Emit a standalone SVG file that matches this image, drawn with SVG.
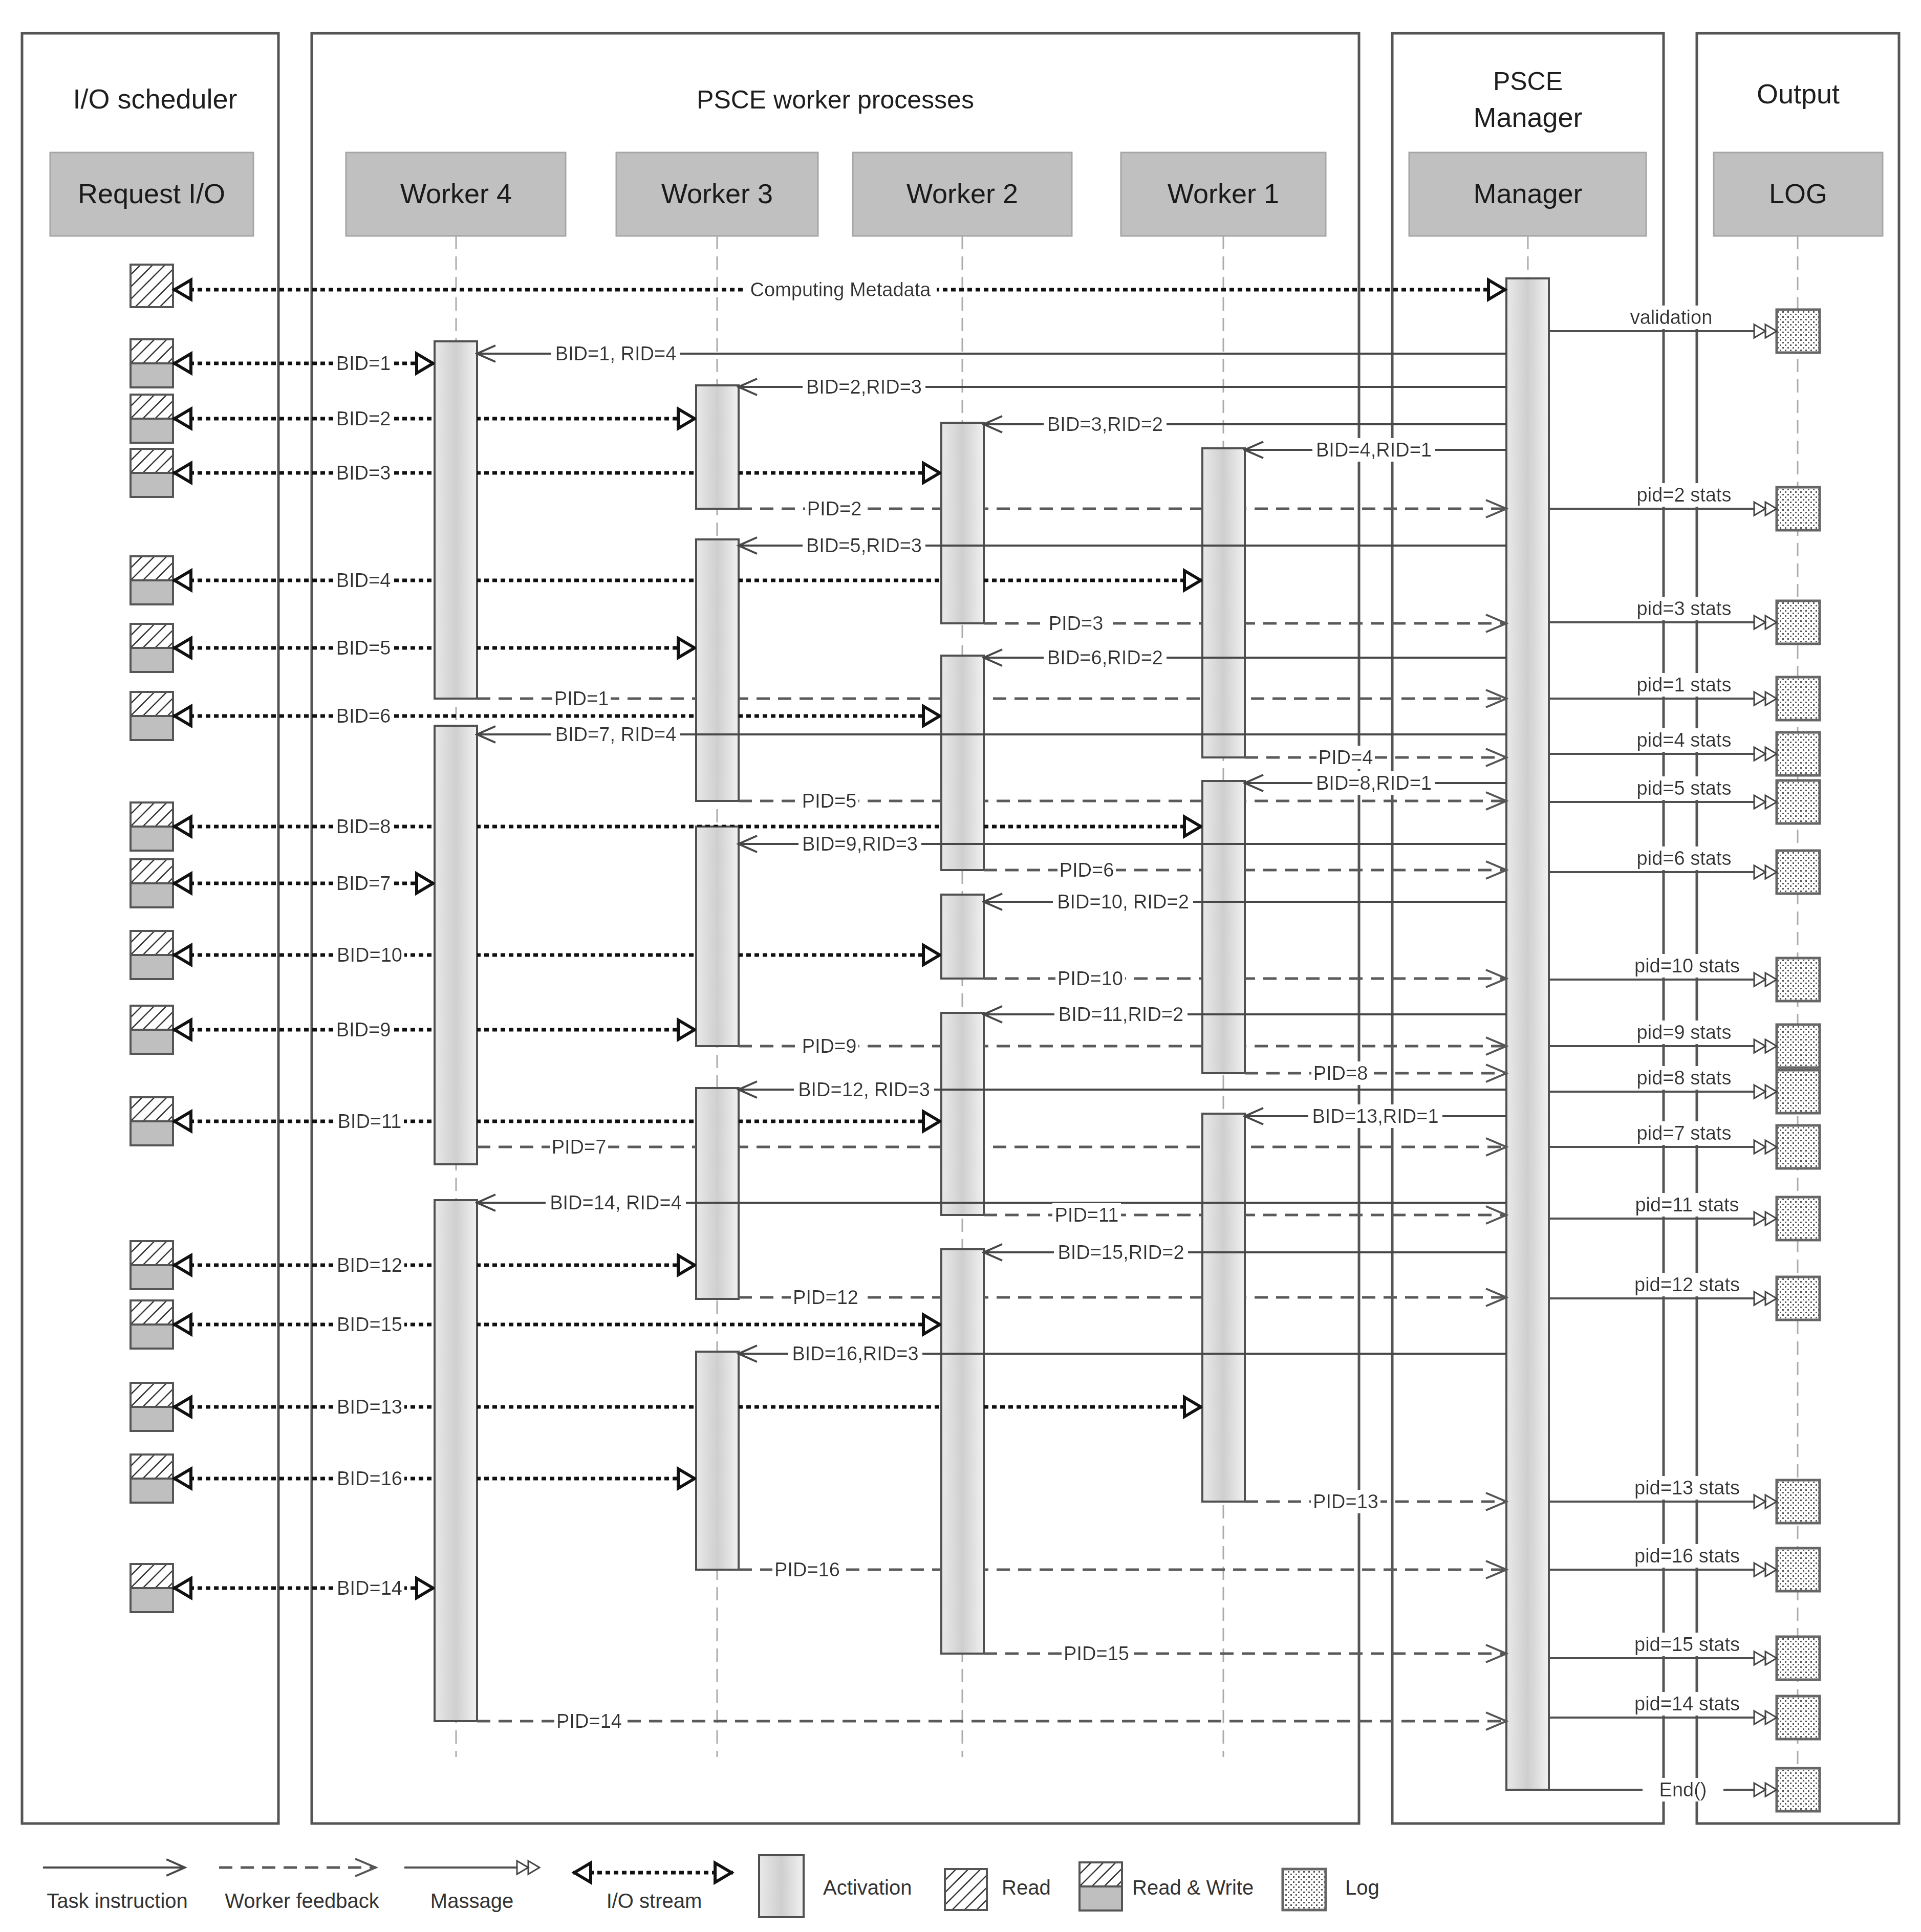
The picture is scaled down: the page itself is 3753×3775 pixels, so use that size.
<svg xmlns="http://www.w3.org/2000/svg" xmlns:xlink="http://www.w3.org/1999/xlink" width="3753" height="3775" viewBox="0 0 3753 3775">
<style>
.frame{fill:none;stroke:#555;stroke-width:5}
.title{font-family:"Liberation Sans",Arial,sans-serif;font-size:54px;fill:#1e1e1e;text-anchor:middle}
.hdr{fill:#c0c0c0;stroke:#a6a6a6;stroke-width:3}
.hdrt{font-family:"Liberation Sans",Arial,sans-serif;font-size:54px;fill:#1a1a1a;text-anchor:middle}
.life{stroke:#ababab;stroke-width:3;stroke-dasharray:26 14;fill:none}
.act{fill:url(#actGrad);stroke:#505050;stroke-width:4}
.task{stroke:#474747;stroke-width:4;fill:none;marker-end:url(#mTask)}
.fb{stroke:#5a5a5a;stroke-width:5;stroke-dasharray:26 16;fill:none;marker-end:url(#mFb)}
.io{stroke:#111;stroke-width:7;stroke-dasharray:9 7;fill:none;marker-start:url(#mIo);marker-end:url(#mIo)}
.msg{stroke:#505050;stroke-width:4;fill:none;marker-end:url(#mMsg)}
.lbl{font-family:"Liberation Sans",Arial,sans-serif;font-size:38px;fill:#333;text-anchor:middle;filter:url(#bg)}
.lblw{font-family:"Liberation Sans",Arial,sans-serif;font-size:38px;fill:#333;text-anchor:middle;filter:url(#bgw)}
.leg{font-family:"Liberation Sans",Arial,sans-serif;font-size:40px;fill:#333}
.legc{font-family:"Liberation Sans",Arial,sans-serif;font-size:40px;fill:#333;text-anchor:middle}
.read{fill:url(#hatch);stroke:#555;stroke-width:4}
.logb{fill:url(#dots);stroke:#666;stroke-width:5}
</style>
<defs>
<linearGradient id="actGrad" x1="0" y1="0" x2="1" y2="0">
<stop offset="0" stop-color="#e9e9e9"/>
<stop offset="0.5" stop-color="#cfcfcf"/>
<stop offset="1" stop-color="#f1f1f1"/>
</linearGradient>
<pattern id="hatch" width="24" height="24" patternUnits="userSpaceOnUse">
<rect width="24" height="24" fill="#fff"/>
<path d="M0,24 L24,0 M-12,12 L12,-12 M12,36 L36,12" stroke="#333" stroke-width="2.5"/>
</pattern>
<pattern id="dots" width="10" height="10" patternUnits="userSpaceOnUse">
<rect width="10" height="10" fill="#fff"/>
<rect x="1" y="1" width="3" height="3" fill="#555"/>
<rect x="6" y="6" width="3" height="3" fill="#555"/>
</pattern>
<marker id="mTask" viewBox="-40 -20 44 40" refX="0" refY="0" markerWidth="44" markerHeight="40" markerUnits="userSpaceOnUse" orient="auto">
<path d="M-36,-16 L0,0 L-36,16" fill="none" stroke="#474747" stroke-width="4"/>
</marker>
<marker id="mFb" viewBox="-44 -20 48 40" refX="0" refY="0" markerWidth="48" markerHeight="40" markerUnits="userSpaceOnUse" orient="auto">
<path d="M-40,-17 L0,0 L-40,17" fill="none" stroke="#555" stroke-width="4"/>
</marker>
<marker id="mIo" viewBox="-42 -26 46 52" refX="0" refY="0" markerWidth="46" markerHeight="52" markerUnits="userSpaceOnUse" orient="auto-start-reverse">
<path d="M-35,-19 L-3,0 L-35,19 Z" fill="#fff" stroke="#111" stroke-width="6"/>
</marker>
<marker id="mMsg" viewBox="-48 -17 50 34" refX="0" refY="0" markerWidth="50" markerHeight="34" markerUnits="userSpaceOnUse" orient="auto">
<path d="M-44,-13 L-22,0 L-44,13 Z M-22,-13 L0,0 L-22,13 Z" fill="#fff" stroke="#444" stroke-width="3"/>
</marker>
<filter id="bg" x="-0.03" y="-0.04" width="1.06" height="1.08">
<feFlood flood-color="#fff"/>
<feComposite in="SourceGraphic" operator="over"/>
</filter>
<filter id="bgw" x="-0.34" y="-0.04" width="1.68" height="1.08">
<feFlood flood-color="#fff"/>
<feComposite in="SourceGraphic" operator="over"/>
</filter>
<g id="rwbox">
<rect x="0" y="-47" width="83" height="47" fill="url(#hatch)"/>
<rect x="0" y="0" width="83" height="47" fill="#bfbfbf"/>
<rect x="0" y="-47" width="83" height="94" fill="none" stroke="#555" stroke-width="4"/>
<line x1="0" y1="0" x2="83" y2="0" stroke="#555" stroke-width="4"/>
</g>
<rect id="logbox" x="0" y="-42" width="84" height="84" class="logb"/>
<mask id="actMask" maskUnits="userSpaceOnUse" x="0" y="0" width="3753" height="3775">
<rect x="0" y="0" width="3753" height="3775" fill="#fff"/>
<g fill="#000">
<rect x="849" y="667" width="83" height="698"/>
<rect x="849" y="1418" width="83" height="857"/>
<rect x="849" y="2345" width="83" height="1018"/>
<rect x="1360" y="753" width="83" height="241"/>
<rect x="1360" y="1054" width="83" height="511"/>
<rect x="1360" y="1615" width="83" height="429"/>
<rect x="1360" y="2126" width="83" height="412"/>
<rect x="1360" y="2641" width="83" height="426"/>
<rect x="1839" y="826" width="83" height="392"/>
<rect x="1839" y="1281" width="83" height="419"/>
<rect x="1839" y="1748" width="83" height="164"/>
<rect x="1839" y="1979" width="83" height="395"/>
<rect x="1839" y="2441" width="83" height="790"/>
<rect x="2349" y="876" width="83" height="604"/>
<rect x="2349" y="1526" width="83" height="571"/>
<rect x="2349" y="2176" width="83" height="758"/>
</g>
</mask>
</defs>
<rect x="0" y="0" width="3753" height="3775" fill="#fff"/>

<g id="frames">
<rect class="frame" x="43" y="65" width="501" height="3498"/>
<rect class="frame" x="609" y="65" width="2046" height="3498"/>
<rect class="frame" x="2720" y="65" width="530" height="3498"/>
<rect class="frame" x="3315" y="65" width="395" height="3498"/>
<text class="title" x="303" y="212">I/O scheduler</text>
<text class="title" x="1632" y="212" style="font-size:50px">PSCE worker processes</text>
<text class="title" x="2985" y="176" style="font-size:50px">PSCE</text>
<text class="title" x="2985" y="248">Manager</text>
<text class="title" x="3513" y="202">Output</text>
</g>

<g id="request-io">
<rect class="hdr" x="98" y="298" width="397" height="163"/>
<text class="hdrt" x="296" y="397">Request I/O</text>
<rect class="read" x="255" y="517" width="83" height="83"/>
<use xlink:href="#rwbox" href="#rwbox" x="255" y="710"/>
<use xlink:href="#rwbox" href="#rwbox" x="255" y="818"/>
<use xlink:href="#rwbox" href="#rwbox" x="255" y="924"/>
<use xlink:href="#rwbox" href="#rwbox" x="255" y="1134"/>
<use xlink:href="#rwbox" href="#rwbox" x="255" y="1266"/>
<use xlink:href="#rwbox" href="#rwbox" x="255" y="1399"/>
<use xlink:href="#rwbox" href="#rwbox" x="255" y="1615"/>
<use xlink:href="#rwbox" href="#rwbox" x="255" y="1726"/>
<use xlink:href="#rwbox" href="#rwbox" x="255" y="1866"/>
<use xlink:href="#rwbox" href="#rwbox" x="255" y="2012"/>
<use xlink:href="#rwbox" href="#rwbox" x="255" y="2191"/>
<use xlink:href="#rwbox" href="#rwbox" x="255" y="2472"/>
<use xlink:href="#rwbox" href="#rwbox" x="255" y="2588"/>
<use xlink:href="#rwbox" href="#rwbox" x="255" y="2749"/>
<use xlink:href="#rwbox" href="#rwbox" x="255" y="2889"/>
<use xlink:href="#rwbox" href="#rwbox" x="255" y="3103"/>
</g>

<g id="worker-4">
<rect class="hdr" x="676" y="298" width="429" height="163"/>
<text class="hdrt" x="891" y="397">Worker 4</text>
<line class="life" x1="891" y1="461" x2="891" y2="3433"/>
<rect class="act" x="849" y="667" width="83" height="698"/>
<rect class="act" x="849" y="1418" width="83" height="857"/>
<rect class="act" x="849" y="2345" width="83" height="1018"/>
</g>

<g id="worker-3">
<rect class="hdr" x="1204" y="298" width="394" height="163"/>
<text class="hdrt" x="1401" y="397">Worker 3</text>
<line class="life" x1="1401" y1="461" x2="1401" y2="3433"/>
<rect class="act" x="1360" y="753" width="83" height="241"/>
<rect class="act" x="1360" y="1054" width="83" height="511"/>
<rect class="act" x="1360" y="1615" width="83" height="429"/>
<rect class="act" x="1360" y="2126" width="83" height="412"/>
<rect class="act" x="1360" y="2641" width="83" height="426"/>
</g>

<g id="worker-2">
<rect class="hdr" x="1666" y="298" width="428" height="163"/>
<text class="hdrt" x="1880" y="397">Worker 2</text>
<line class="life" x1="1880" y1="461" x2="1880" y2="3433"/>
<rect class="act" x="1839" y="826" width="83" height="392"/>
<rect class="act" x="1839" y="1281" width="83" height="419"/>
<rect class="act" x="1839" y="1748" width="83" height="164"/>
<rect class="act" x="1839" y="1979" width="83" height="395"/>
<rect class="act" x="1839" y="2441" width="83" height="790"/>
</g>

<g id="worker-1">
<rect class="hdr" x="2190" y="298" width="400" height="163"/>
<text class="hdrt" x="2390" y="397">Worker 1</text>
<line class="life" x1="2390" y1="461" x2="2390" y2="3433"/>
<rect class="act" x="2349" y="876" width="83" height="604"/>
<rect class="act" x="2349" y="1526" width="83" height="571"/>
<rect class="act" x="2349" y="2176" width="83" height="758"/>
</g>

<g id="manager">
<rect class="hdr" x="2753" y="298" width="463" height="163"/>
<text class="hdrt" x="2985" y="397">Manager</text>
<line class="life" x1="2985" y1="461" x2="2985" y2="544"/>
<rect class="act" x="2943" y="544" width="83" height="2953"/>
</g>

<g id="log">
<rect class="hdr" x="3348" y="298" width="330" height="163"/>
<text class="hdrt" x="3513" y="397">LOG</text>
<line class="life" x1="3512" y1="461" x2="3512" y2="3455"/>
<use xlink:href="#logbox" href="#logbox" x="3471" y="647"/>
<use xlink:href="#logbox" href="#logbox" x="3471" y="994"/>
<use xlink:href="#logbox" href="#logbox" x="3471" y="1216"/>
<use xlink:href="#logbox" href="#logbox" x="3471" y="1365"/>
<use xlink:href="#logbox" href="#logbox" x="3471" y="1473"/>
<use xlink:href="#logbox" href="#logbox" x="3471" y="1567"/>
<use xlink:href="#logbox" href="#logbox" x="3471" y="1704"/>
<use xlink:href="#logbox" href="#logbox" x="3471" y="1914"/>
<use xlink:href="#logbox" href="#logbox" x="3471" y="2044"/>
<use xlink:href="#logbox" href="#logbox" x="3471" y="2133"/>
<use xlink:href="#logbox" href="#logbox" x="3471" y="2241"/>
<use xlink:href="#logbox" href="#logbox" x="3471" y="2381"/>
<use xlink:href="#logbox" href="#logbox" x="3471" y="2537"/>
<use xlink:href="#logbox" href="#logbox" x="3471" y="2934"/>
<use xlink:href="#logbox" href="#logbox" x="3471" y="3067"/>
<use xlink:href="#logbox" href="#logbox" x="3471" y="3240"/>
<use xlink:href="#logbox" href="#logbox" x="3471" y="3356"/>
<use xlink:href="#logbox" href="#logbox" x="3471" y="3497"/>
</g>

<g id="connectors">
<g id="io-streams" mask="url(#actMask)">
<line class="io" x1="338" y1="566" x2="2943" y2="566"/>
<line class="io" x1="338" y1="710" x2="849" y2="710"/>
<line class="io" x1="338" y1="818" x2="1360" y2="818"/>
<line class="io" x1="338" y1="924" x2="1839" y2="924"/>
<line class="io" x1="338" y1="1134" x2="2349" y2="1134"/>
<line class="io" x1="338" y1="1266" x2="1360" y2="1266"/>
<line class="io" x1="338" y1="1399" x2="1839" y2="1399"/>
<line class="io" x1="338" y1="1615" x2="2349" y2="1615"/>
<line class="io" x1="338" y1="1726" x2="849" y2="1726"/>
<line class="io" x1="338" y1="1866" x2="1839" y2="1866"/>
<line class="io" x1="338" y1="2012" x2="1360" y2="2012"/>
<line class="io" x1="338" y1="2191" x2="1839" y2="2191"/>
<line class="io" x1="338" y1="2472" x2="1360" y2="2472"/>
<line class="io" x1="338" y1="2588" x2="1839" y2="2588"/>
<line class="io" x1="338" y1="2749" x2="2349" y2="2749"/>
<line class="io" x1="338" y1="2889" x2="1360" y2="2889"/>
<line class="io" x1="338" y1="3103" x2="849" y2="3103"/>
</g>
<g id="feedback" mask="url(#actMask)">
<line class="fb" x1="1443" y1="994" x2="2943" y2="994"/>
<line class="fb" x1="1922" y1="1218" x2="2943" y2="1218"/>
<line class="fb" x1="932" y1="1365" x2="2943" y2="1365"/>
<line class="fb" x1="2432" y1="1480" x2="2943" y2="1480"/>
<line class="fb" x1="1443" y1="1565" x2="2943" y2="1565"/>
<line class="fb" x1="1922" y1="1700" x2="2943" y2="1700"/>
<line class="fb" x1="1922" y1="1912" x2="2943" y2="1912"/>
<line class="fb" x1="1443" y1="2044" x2="2943" y2="2044"/>
<line class="fb" x1="2432" y1="2097" x2="2943" y2="2097"/>
<line class="fb" x1="932" y1="2241" x2="2943" y2="2241"/>
<line class="fb" x1="1922" y1="2374" x2="2943" y2="2374"/>
<line class="fb" x1="1443" y1="2535" x2="2943" y2="2535"/>
<line class="fb" x1="2432" y1="2934" x2="2943" y2="2934"/>
<line class="fb" x1="1443" y1="3067" x2="2943" y2="3067"/>
<line class="fb" x1="1922" y1="3231" x2="2943" y2="3231"/>
<line class="fb" x1="932" y1="3363" x2="2943" y2="3363"/>
</g>
<g id="tasks">
<line class="task" x1="2943" y1="691" x2="932" y2="691"/>
<line class="task" x1="2943" y1="756" x2="1443" y2="756"/>
<line class="task" x1="2943" y1="829" x2="1922" y2="829"/>
<line class="task" x1="2943" y1="879" x2="2432" y2="879"/>
<line class="task" x1="2943" y1="1066" x2="1443" y2="1066"/>
<line class="task" x1="2943" y1="1285" x2="1922" y2="1285"/>
<line class="task" x1="2943" y1="1435" x2="932" y2="1435"/>
<line class="task" x1="2943" y1="1530" x2="2432" y2="1530"/>
<line class="task" x1="2943" y1="1649" x2="1443" y2="1649"/>
<line class="task" x1="2943" y1="1762" x2="1922" y2="1762"/>
<line class="task" x1="2943" y1="1982" x2="1922" y2="1982"/>
<line class="task" x1="2943" y1="2129" x2="1443" y2="2129"/>
<line class="task" x1="2943" y1="2181" x2="2432" y2="2181"/>
<line class="task" x1="2943" y1="2350" x2="932" y2="2350"/>
<line class="task" x1="2943" y1="2447" x2="1922" y2="2447"/>
<line class="task" x1="2943" y1="2645" x2="1443" y2="2645"/>
</g>
<g id="messages">
<line class="msg" x1="3026" y1="647" x2="3471" y2="647"/>
<line class="msg" x1="3026" y1="994" x2="3471" y2="994"/>
<line class="msg" x1="3026" y1="1216" x2="3471" y2="1216"/>
<line class="msg" x1="3026" y1="1365" x2="3471" y2="1365"/>
<line class="msg" x1="3026" y1="1473" x2="3471" y2="1473"/>
<line class="msg" x1="3026" y1="1567" x2="3471" y2="1567"/>
<line class="msg" x1="3026" y1="1704" x2="3471" y2="1704"/>
<line class="msg" x1="3026" y1="1914" x2="3471" y2="1914"/>
<line class="msg" x1="3026" y1="2044" x2="3471" y2="2044"/>
<line class="msg" x1="3026" y1="2133" x2="3471" y2="2133"/>
<line class="msg" x1="3026" y1="2241" x2="3471" y2="2241"/>
<line class="msg" x1="3026" y1="2381" x2="3471" y2="2381"/>
<line class="msg" x1="3026" y1="2537" x2="3471" y2="2537"/>
<line class="msg" x1="3026" y1="2934" x2="3471" y2="2934"/>
<line class="msg" x1="3026" y1="3067" x2="3471" y2="3067"/>
<line class="msg" x1="3026" y1="3240" x2="3471" y2="3240"/>
<line class="msg" x1="3026" y1="3356" x2="3471" y2="3356"/>
<line class="msg" x1="3026" y1="3497" x2="3471" y2="3497"/>
</g>
<g id="labels">
<text class="lbl" x="1642" y="579">Computing Metadata</text>
<text class="lbl" x="710" y="723">BID=1</text>
<text class="lbl" x="710" y="831">BID=2</text>
<text class="lbl" x="710" y="937">BID=3</text>
<text class="lbl" x="710" y="1147">BID=4</text>
<text class="lbl" x="710" y="1279">BID=5</text>
<text class="lbl" x="710" y="1412">BID=6</text>
<text class="lbl" x="710" y="1628">BID=8</text>
<text class="lbl" x="710" y="1739">BID=7</text>
<text class="lbl" x="722" y="1879">BID=10</text>
<text class="lbl" x="710" y="2025">BID=9</text>
<text class="lbl" x="722" y="2204">BID=11</text>
<text class="lbl" x="722" y="2485">BID=12</text>
<text class="lbl" x="722" y="2601">BID=15</text>
<text class="lbl" x="722" y="2762">BID=13</text>
<text class="lbl" x="722" y="2902">BID=16</text>
<text class="lbl" x="722" y="3116">BID=14</text>

<text class="lbl" x="1203" y="704">BID=1, RID=4</text>
<text class="lbl" x="1688" y="769">BID=2,RID=3</text>
<text class="lbl" x="2159" y="842">BID=3,RID=2</text>
<text class="lbl" x="2684" y="892">BID=4,RID=1</text>
<text class="lbl" x="1688" y="1079">BID=5,RID=3</text>
<text class="lbl" x="2159" y="1298">BID=6,RID=2</text>
<text class="lbl" x="1203" y="1448">BID=7, RID=4</text>
<text class="lbl" x="2684" y="1543">BID=8,RID=1</text>
<text class="lbl" x="1680" y="1662">BID=9,RID=3</text>
<text class="lbl" x="2194" y="1775">BID=10, RID=2</text>
<text class="lbl" x="2190" y="1995">BID=11,RID=2</text>
<text class="lbl" x="1688" y="2142">BID=12, RID=3</text>
<text class="lbl" x="2687" y="2194">BID=13,RID=1</text>
<text class="lbl" x="1203" y="2363">BID=14, RID=4</text>
<text class="lbl" x="2190" y="2460">BID=15,RID=2</text>
<text class="lbl" x="1671" y="2658">BID=16,RID=3</text>

<text class="lbl" x="1630" y="1007">PID=2</text>
<text class="lbl" x="2102" y="1231">PID=3</text>
<text class="lbl" x="1136" y="1378">PID=1</text>
<text class="lbl" x="2629" y="1493">PID=4</text>
<text class="lbl" x="1620" y="1578">PID=5</text>
<text class="lbl" x="2123" y="1713">PID=6</text>
<text class="lbl" x="2130" y="1925">PID=10</text>
<text class="lbl" x="1620" y="2057">PID=9</text>
<text class="lbl" x="2619" y="2110">PID=8</text>
<text class="lbl" x="1131" y="2254">PID=7</text>
<text class="lbl" x="2123" y="2387">PID=11</text>
<text class="lbl" x="1613" y="2548">PID=12</text>
<text class="lbl" x="2629" y="2947">PID=13</text>
<text class="lbl" x="1577" y="3080">PID=16</text>
<text class="lbl" x="2142" y="3244">PID=15</text>
<text class="lbl" x="1151" y="3376">PID=14</text>

<text class="lbl" x="3265" y="633">validation</text>
<text class="lbl" x="3290" y="980">pid=2 stats</text>
<text class="lbl" x="3290" y="1202">pid=3 stats</text>
<text class="lbl" x="3290" y="1351">pid=1 stats</text>
<text class="lbl" x="3290" y="1459">pid=4 stats</text>
<text class="lbl" x="3290" y="1553">pid=5 stats</text>
<text class="lbl" x="3290" y="1690">pid=6 stats</text>
<text class="lbl" x="3296" y="1900">pid=10 stats</text>
<text class="lbl" x="3290" y="2030">pid=9 stats</text>
<text class="lbl" x="3290" y="2119">pid=8 stats</text>
<text class="lbl" x="3290" y="2227">pid=7 stats</text>
<text class="lbl" x="3296" y="2367">pid=11 stats</text>
<text class="lbl" x="3296" y="2523">pid=12 stats</text>
<text class="lbl" x="3296" y="2920">pid=13 stats</text>
<text class="lbl" x="3296" y="3053">pid=16 stats</text>
<text class="lbl" x="3296" y="3226">pid=15 stats</text>
<text class="lbl" x="3296" y="3342">pid=14 stats</text>
<text class="lblw" x="3288" y="3510">End()</text>
</g>
</g>

<g id="legend">
<line class="task" x1="84" y1="3649" x2="361" y2="3649"/>
<line class="fb" x1="428" y1="3649" x2="734" y2="3649"/>
<line class="msg" x1="790" y1="3649" x2="1054" y2="3649"/>
<line class="io" x1="1119" y1="3659" x2="1432" y2="3659"/>
<text class="legc" x="229" y="3728">Task instruction</text>
<text class="legc" x="590" y="3728">Worker feedback</text>
<text class="legc" x="922" y="3728">Massage</text>
<text class="legc" x="1278" y="3728">I/O stream</text>
<rect class="act" x="1483" y="3625" width="87" height="121"/>
<text class="leg" x="1608" y="3702">Activation</text>
<rect class="read" x="1846" y="3652" width="82" height="80"/>
<text class="leg" x="1957" y="3702">Read</text>
<use xlink:href="#rwbox" href="#rwbox" x="2109" y="3686"/>
<text class="leg" x="2212" y="3702">Read &amp; Write</text>
<rect class="logb" x="2506" y="3652" width="84" height="80"/>
<text class="leg" x="2628" y="3702">Log</text>
</g>
</svg>
